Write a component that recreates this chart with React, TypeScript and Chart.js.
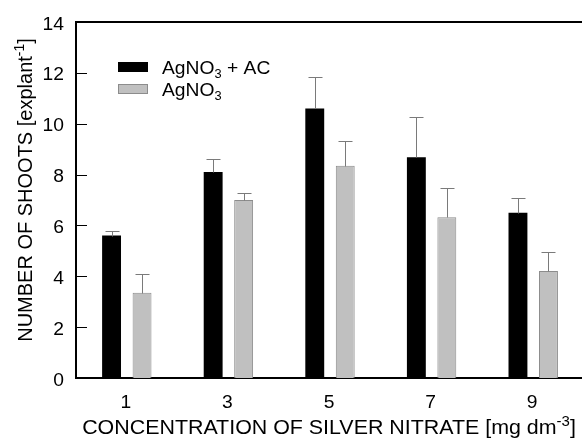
import React, { useEffect, useRef } from "react";
import { Chart, registerables } from "chart.js";

Chart.register(...registerables);

const categories = ["1", "3", "5", "7", "9"];
const seriesLabels = ["AgNO₃ + AC", "AgNO₃"];
const withAC = [5.6, 8.1, 10.6, 8.68, 6.5];
const withACErr = [0.2, 0.5, 1.22, 1.6, 0.59];
const plain = [3.35, 7.0, 8.35, 6.32, 4.21];
const plainErr = [0.73, 0.27, 0.98, 1.15, 0.76];
const yMin = 0;
const yMax = 14;
const yStep = 2;
const xTitle = "CONCENTRATION OF SILVER NITRATE [mg dm⁻³]";
const yTitle = "NUMBER OF SHOOTS [explant⁻¹]";

const FONT = "'Liberation Sans', Arial, sans-serif";
const STRETCH = 1.07;
const seriesFill = ["#000000", "#c0c0c0"];
const seriesBorder = ["#000000", "#8c8c8c"];

type Seg = { t: string; k: "n" | "sub" | "sup" };
const SUP: Record<string, string> = { "⁻": "-", "¹": "1", "²": "2", "³": "3" };
const SUB: Record<string, string> = { "₃": "3", "₂": "2" };

function parse(text: string): Seg[] {
  const out: Seg[] = [];
  for (const ch of text) {
    let k: Seg["k"] = "n";
    let c = ch;
    if (SUP[ch] !== undefined) { k = "sup"; c = SUP[ch]; }
    else if (SUB[ch] !== undefined) { k = "sub"; c = SUB[ch]; }
    const last = out[out.length - 1];
    if (last && last.k === k) last.t += c;
    else out.push({ t: c, k });
  }
  return out;
}

function segSize(k: Seg["k"], size: number) {
  return k === "n" ? size : Math.round(size * 0.68);
}

function richWidth(ctx: CanvasRenderingContext2D, segs: Seg[], size: number) {
  let w = 0;
  for (const s of segs) {
    ctx.font = `${segSize(s.k, size)}px ${FONT}`;
    w += ctx.measureText(s.t).width;
  }
  return w;
}

// draws text with its alphabetic baseline at y
function drawRich(
  ctx: CanvasRenderingContext2D,
  text: string,
  x: number,
  y: number,
  size: number,
  align: "left" | "center" | "right",
  sx: number
) {
  const segs = parse(text);
  const w = richWidth(ctx, segs, size);
  ctx.save();
  ctx.translate(x, y);
  ctx.scale(sx, 1);
  let cx = align === "center" ? -w / 2 : align === "right" ? -w : 0;
  ctx.textAlign = "left";
  ctx.textBaseline = "alphabetic";
  for (const s of segs) {
    const sz = segSize(s.k, size);
    ctx.font = `${sz}px ${FONT}`;
    const dy = s.k === "sup" ? -size * 0.4 : s.k === "sub" ? size * 0.22 : 0;
    ctx.fillText(s.t, cx, dy);
    cx += ctx.measureText(s.t).width;
  }
  ctx.restore();
}

const decorPlugin = {
  id: "decor",
  afterDatasetsDraw(chart: any) {
    const ctx: CanvasRenderingContext2D = chart.ctx;
    const area = chart.chartArea;
    const yScale = chart.scales.y;
    const xScale = chart.scales.x;
    const errs = [withACErr, plainErr];
    const vals = [withAC, plain];
    ctx.save();
    // error bars
    ctx.strokeStyle = "#7a7a7a";
    ctx.lineWidth = 1;
    for (let d = 0; d < 2; d++) {
      const meta = chart.getDatasetMeta(d);
      meta.data.forEach((bar: any, i: number) => {
        const x = Math.round(bar.x) + 0.5;
        const yTop = Math.round(yScale.getPixelForValue(vals[d][i])) + 0.5;
        const yErr = Math.round(yScale.getPixelForValue(vals[d][i] + errs[d][i])) + 0.5;
        ctx.beginPath();
        ctx.moveTo(x, yTop);
        ctx.lineTo(x, yErr);
        ctx.moveTo(x - 7, yErr);
        ctx.lineTo(x + 7, yErr);
        ctx.stroke();
      });
    }
    // inward ticks and y tick labels
    ctx.strokeStyle = "#000";
    ctx.fillStyle = "#000";
    ctx.lineWidth = 1;
    yScale.ticks.forEach((t: any) => {
      const yp = yScale.getPixelForValue(t.value);
      const y = Math.round(yp) + 0.5;
      ctx.beginPath();
      ctx.moveTo(area.left, y);
      ctx.lineTo(area.left + 11, y);
      ctx.stroke();
      drawRich(ctx, String(t.label), area.left - 12, yp + 7.6, 18, "right", STRETCH);
    });
    // x tick labels
    xScale.ticks.forEach((t: any, i: number) => {
      const xp = xScale.getPixelForTick(i);
      drawRich(ctx, String(xScale.getLabelForValue(t.value)), xp - 1, area.bottom + 29.5, 18, "center", STRETCH);
    });
    // top frame line
    ctx.lineWidth = 2;
    ctx.beginPath();
    ctx.moveTo(area.left - 1, area.top);
    ctx.lineTo(area.right + 2, area.top);
    ctx.stroke();
    // legend
    const lx = area.left + 42;
    const ly = [area.top + 40, area.top + 62];
    for (let d = 0; d < 2; d++) {
      ctx.fillStyle = seriesFill[d];
      ctx.fillRect(lx, ly[d], 30, 10);
      if (d === 1) {
        ctx.strokeStyle = seriesBorder[d];
        ctx.lineWidth = 1;
        ctx.strokeRect(lx + 0.5, ly[d] + 0.5, 29, 9);
      }
      ctx.fillStyle = "#000";
      drawRich(ctx, chart.data.datasets[d].label, lx + 44, ly[d] + 12.4, 18, "left", STRETCH);
    }
    // axis titles
    ctx.fillStyle = "#000";
    drawRich(ctx, xTitle, (area.left + area.right) / 2 - 1, 434, 20, "center", STRETCH);
    ctx.save();
    ctx.translate(31.5, 190);
    ctx.rotate(-Math.PI / 2);
    drawRich(ctx, yTitle, 0, 0, 20, "center", 1);
    ctx.restore();
    ctx.restore();
  },
};

export default function App() {
  const ref = useRef<HTMLCanvasElement | null>(null);
  useEffect(() => {
    if (!ref.current) return;
    const chart = new Chart(ref.current, {
      type: "bar",
      data: {
        labels: categories,
        datasets: [
          {
            label: seriesLabels[0],
            data: withAC,
            backgroundColor: seriesFill[0],
            borderColor: seriesBorder[0],
            borderWidth: 0,
            categoryPercentage: 0.6,
            barPercentage: 0.62,
          },
          {
            label: seriesLabels[1],
            data: plain,
            backgroundColor: seriesFill[1],
            borderColor: seriesBorder[1],
            borderWidth: 1,
            categoryPercentage: 0.6,
            barPercentage: 0.62,
          },
        ],
      },
      options: {
        animation: false,
        responsive: false,
        layout: { padding: { left: 0, right: 2, top: 22, bottom: 0 } },
        plugins: { legend: { display: false }, tooltip: { enabled: false } },
        scales: {
          x: {
            grid: { display: false, drawTicks: false },
            border: { display: true, color: "#000", width: 2 },
            ticks: { display: false },
            afterFit: (s: any) => { s.height = 61; },
          },
          y: {
            min: yMin,
            max: yMax,
            grid: { display: false, drawTicks: false },
            border: { display: true, color: "#000", width: 2 },
            ticks: { display: false, stepSize: yStep },
            afterFit: (s: any) => { s.width = 76; },
          },
        },
      },
      plugins: [decorPlugin],
    });
    return () => chart.destroy();
  }, []);
  return (
    <div style={{ position: "fixed", left: 0, top: 0, width: 586, height: 439, background: "#fff" }}>
      <canvas ref={ref} width={586} height={439} style={{ width: 586, height: 439, display: "block" }} />
    </div>
  );
}
